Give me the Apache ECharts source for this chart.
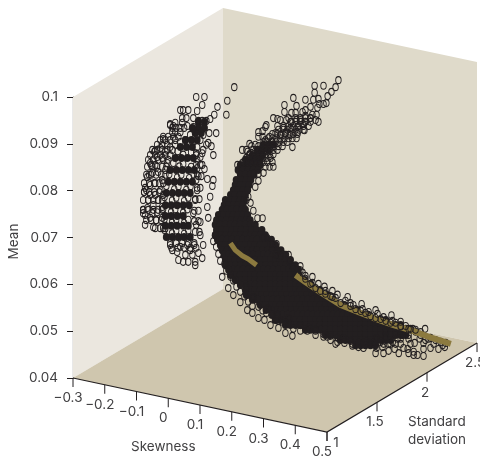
<!DOCTYPE html>
<html><head><meta charset="utf-8">
<style>html,body{margin:0;padding:0;background:#fff}#c{width:480px;height:459px}</style>
<script src="https://cdn.jsdelivr.net/npm/echarts@6/dist/echarts.min.js"></script>
</head><body><div id="c"></div>
<script>
// Axis ticks
const meanRange = [0.04, 0.1];
const skewTicks = [-0.3, -0.2, -0.1, 0, 0.1, 0.2, 0.3, 0.4, 0.5];
const stdTicks = [1, 1.5, 2, 2.5];

// The cloud's depth cannot be read from a flat picture, so each point is read as it
// appears on the page: [position on the Skewness scale, position on the Mean scale].

// Where overlapping markers merge into solid ink: one Mean reading, many Skewness readings.
const solidMeans = [.0947,.0934,.0923,.0908,.0893,.087,.0844,.0819,.0795,.0769,.0746,.0725,.0701,
 .0898,.0887,.0876,.0866,
 .0855,.0844,.0834,.0823,.0812,.0801,.0791,.078,.0769,.0759,.0748,.0737,.0727,.0716,.0705,.0695,.0684,.0673,.0663,.0652,.0641,.0631,.062,.0609,.0599,.0588,.0577,.0567,.0556,.0545,.0535,.0524,.0513,.0503,.0492,.0481,.047,
 .0641,.0631,.062,.0609,.0599,.0588,.0577,.0567,.0556,.0545,.0535,.0524,.0513,.0503,.0492,.0481,.047];
const solidSkews = [
 [.095,.114],[.076,.095,.114],[.085,.104],[.054,.073,.091],[.038,.057,.076],[.022,.041,.06,.079],[.006,.025,.044,.063,.082],[0,.019,.038,.057,.076],
 [-.006,.013,.032,.05,.069],[-.009,.009,.028,.047,.066],[-.009,.009,.028,.047],[-.009,.009,.028,.047,.063],[-.006,.013,.032,.05,.069],
 [.3,.315,.33],[.281,.297,.315],[.265,.281,.297],[.243,.259,.275,.29],
 [.227,.243,.259,.274,.29],[.22,.236,.252,.268,.283],[.227,.243,.259,.27],[.214,.23,.246,.26],[.211,.227,.243,.255],[.205,.22,.236,.25],[.196,.211,.227,.243],[.18,.196,.211,.227,.24],[.176,.19,.205,.22,.236],
 [.17,.185,.2,.216,.232,.243],[.158,.174,.19,.205,.22,.236,.25],[.152,.168,.183,.2,.215,.23,.246,.258],[.148,.164,.18,.196,.211,.227,.243,.259,.274],
 [.152,.168,.183,.2,.215,.23,.246,.262,.278,.295],[.148,.164,.18,.196,.211,.227,.243,.259,.274,.29,.306],[.155,.17,.186,.2,.218,.234,.25,.265,.28,.297,.313,.325],
 [.164,.18,.196,.211,.227,.243,.259,.274,.29,.306,.322,.338],[.17,.186,.2,.218,.234,.25,.265,.28,.297,.313,.328,.344,.355],[.176,.19,.205,.221,.237,.252,.268,.284,.3,.315,.331,.347,.363,.37],
 [.18,.196,.211,.227,.243,.259,.274,.29,.306,.322,.338,.353,.369,.385],[.196,.212,.228,.244,.26,.275,.291,.307,.323,.339,.355,.37,.386,.4],[.205,.22,.236,.252,.268,.284,.3,.315,.331,.347,.363,.379,.394,.41],
 [.211,.227,.243,.259,.274,.29,.306,.322,.338,.353,.369,.385,.401,.412],[.227,.243,.259,.274,.29,.306,.322,.338,.353,.369,.385,.401,.416,.43],[.243,.259,.274,.29,.306,.322,.338,.353,.369,.385,.401,.416,.432,.45],
 [.259,.274,.29,.306,.322,.338,.353,.369,.385,.401,.416,.432,.448,.464,.477],[.278,.294,.31,.326,.342,.357,.373,.389,.405,.42,.436,.452,.468,.484,.5],[.297,.313,.329,.345,.361,.376,.392,.408,.424,.44,.455,.471,.487,.503,.52],
 [.322,.338,.353,.369,.385,.401,.416,.432,.448,.464,.479,.495,.511,.527,.543,.555],[.34,.356,.372,.388,.404,.419,.435,.451,.467,.483,.498,.514,.53,.546,.562,.578,.595],[.36,.376,.392,.408,.424,.44,.455,.471,.487,.503,.519,.535,.55,.566,.582,.598,.614,.63],
 [.353,.369,.385,.401,.416,.432,.448,.464,.479,.495,.511,.527,.543,.558,.574,.59,.606,.621,.637,.653,.669,.685],[.401,.416,.432,.448,.464,.479,.495,.511,.527,.543,.558,.574,.59,.606,.621,.637,.653,.669,.685,.7,.716,.732],
 [.48,.495,.511,.527,.543,.558,.574,.59,.606,.621,.637,.653,.669,.685,.7,.716,.732,.748,.763],[.527,.543,.558,.574,.59,.606,.621,.637,.653,.669,.685,.7,.716,.732,.748],[.574,.59,.606,.621,.637,.653,.669,.685,.7],[.606,.621,.637,.653],
 [.18],[.19],[.196],[.211],[.227],[.243],[.246,.262],[.265,.281],[.29,.306],[.308,.324],[.328,.344],[.337],[.369,.385],[.432,.448,.464],[.495,.511],[.542,.558],[.59]
];

// Open markers read row by row: the spine of the upper branch and the outer arc of the left cluster
const rowMeans = [.0955,.0947,.0938,.093,.0921,.0912,.0904,.0895,.0887,.0878,.087,.0861,.0851,
 .0934,.0908,.0898,.0887,.0876,.0866,.0851,.0834,.0816,.0797,.078,.0759,.0737,.072,
 .088,.0855,.0831,.0806,.0782,.0757,.0735,.0712,.0688,.0678];
const rowSkews = [
 [.401,.416,.432,.448],[.385,.401,.416,.432,.448],[.363,.379,.394,.41,.426,.442],[.347,.363,.375,.388,.401,.413,.426],[.328,.344,.356,.369,.382,.394,.407],[.315,.328,.341,.353,.366,.379,.391,.404],[.3,.312,.325,.338,.35,.363,.375],[.284,.297,.309,.322,.334,.347,.36],[.268,.281,.293,.306,.319,.331,.344],[.256,.268,.281,.293,.306,.319,.331],[.246,.259,.271,.284,.297,.309,.322],[.237,.249,.262,.274,.287,.3,.312,.328],[.306,.319,.331],
 [.013,.025,.038,.05],[-.025,-.009,.006,.022],[-.035,-.019,-.003],[-.05,-.035,-.019,-.003,.013],[-.057,-.041,-.025,-.009,.006],[-.063,-.047,-.032,-.016,0],[-.066,-.05,-.035,-.019,-.006],[-.069,-.054,-.038,-.022,-.009],[-.076,-.06,-.044,-.028,-.016],[-.076,-.06,-.044,-.028],[-.079,-.063,-.047,-.032,-.019],[-.079,-.063,-.047,-.032,-.019],[-.069,-.054,-.038,-.022],[-.041,-.025,-.009],
 [.088,.107],[.088,.101],[.095,.104],[.091,.101],[.085,.098],[.082,.095],[.082,.095],[.085,.098],[.006,.025,.044,.063,.082],[.01,.03,.05,.07,.088]
];

const leftClusterRings = [[.088,.1],[.114,.1],[.107,.0983],[.091,.097],[.155,.0979],[.145,.0962],[.183,.0962],[.186,.0992],[.208,.1021],[.038,.0972],[.047,.0972],[.063,.0972],[.057,.0955],[.044,.0955],[.079,.0955],[.095,.0949],[.107,.0949],[.12,.0949],[.132,.0953],[.006,.0942],[.022,.0945],[.044,.0945],[.06,.0938],[.079,.0936],[.151,.0923],[.129,.0923],[.11,.0934],[.013,.0925],[.022,.0925],[.038,.0925],[-.016,.0915],[0,.0915],[.016,.0915],[.032,.0915],[.126,.0902],[.136,.0895],[.12,.0898],[.142,.0876],[.114,.0846],[.091,.0848],[.123,.0825],[.142,.0823],[.139,.081],[.088,.0823],[-.041,.0885],[-.025,.0891],[-.035,.0872],[-.009,.0883],[.006,.0893],[-.057,.0859],[-.041,.0855],[-.019,.087],[-.003,.0859],[-.066,.0829],[-.05,.0838],[-.032,.084],[-.009,.0844],[-.073,.0806],[-.057,.0812],[-.041,.0816],[-.019,.0823],
 [-.079,.0752],[-.073,.0748],[-.079,.0759],[-.069,.0801],[-.076,.0797],[-.06,.0834],[-.054,.0855],[-.044,.0883],[-.016,.091],[.006,.094],[.016,.0938],[-.057,.0791],[-.041,.0791],[-.025,.0801],[-.063,.078],[-.047,.0769],[-.032,.078],[-.016,.0791],[-.066,.0763],[-.05,.0752],[-.035,.0754],[-.019,.0765],[-.057,.0742],[-.038,.0737],[-.019,.0742],[-.073,.0727],[-.047,.0722],
 [.069,.0919],[.091,.0919],[.054,.0908],[.076,.0904],[.101,.0908],[.022,.0898],[.038,.0904],[.11,.0919],[.091,.0893],[.11,.0887],[.101,.0872],[.091,.0866],[.107,.0855],[.091,.0834],[.091,.0801],[.085,.078],[.079,.0752],[.088,.0727],[.101,.0705],[.11,.0684],[.095,.0667],[.107,.0656],[.013,.0673],[.032,.0652],[.047,.0648],[.063,.0648],[.085,.0648],[.085,.0641],[.076,.0663],[.069,.0673],[.028,.0669],[.054,.0663],[.006,.0684],[.038,.068],[.06,.0684],[.082,.0684],[.101,.0733],[.132,.0787],[.123,.0765],[.126,.0742],[-.016,.072],
 [.03,.0884],[.047,.0877],[.072,.0882],[.088,.0876],[.016,.0859],[.035,.0852],[.047,.0857],[.072,.0851],[.003,.0835],[.028,.0828],[.041,.0834],[.066,.0827],[.08,.0834],[-.006,.081],[.019,.0803],[.032,.0809],[.057,.0802],[.07,.0809],[-.012,.0786],[.012,.0779],[.025,.0785],[.05,.0778],[.063,.0785],[-.016,.0761],[.009,.0754],[.022,.076],[.047,.0753],[.06,.076],[-.012,.0739],[.012,.0732],[.025,.0738],[.05,.0731],[.063,.0738],[-.012,.0716],[.012,.0709],[.025,.0715],[.05,.0708],[.063,.0715]];

const upperBranchRings = [[.536,.1036],[.527,.1021],[.514,.1011],[.502,.1002],[.489,.1024],[.461,.1024],[.461,.1009],[.473,.0996],[.498,.0987],[.489,.0985],[.476,.0985],[.457,.0994],[.432,.0994],[.394,.0998],[.366,.0983],[.404,.0981],[.388,.0966],[.366,.0968],[.379,.0955],[.401,.0966],[.423,.0968],[.448,.0979],[.47,.0977],[.467,.0962],[.454,.0962],[.432,.096],[.416,.0951],[.404,.0951],[.388,.0947],[.372,.0951],[.353,.0951],[.344,.0953],[.331,.0955],[.309,.094],[.344,.0938],[.306,.0936],[.319,.0915],[.297,.0927],[.284,.0925],[.297,.0915],[.274,.0898],[.297,.0893],[.391,.0893],[.256,.09],[.256,.0876],[.306,.0908],[.338,.0923],[.363,.0934],[.385,.0934],[.407,.0936],[.426,.0942],[.448,.0955],[.432,.0972],[.464,.0951],[.473,.0947],[.369,.0923],[.353,.0919],[.328,.0904],[.385,.0919],[.407,.0925],[.429,.0929],[.432,.0947],
 [.246,.0887],[.233,.0887],[.25,.0883],[.262,.0895],[.284,.0915],[.233,.0859],[.218,.0855],[.297,.0741],[.281,.0741],[.268,.0757],[.259,.0774],[.252,.0787],[.246,.078],[.3,.0838],[.284,.0836],[.268,.0836],[.284,.0821],[.274,.0808]];

const massEdgeRings = [[.148,.0705],[.142,.0692],[.151,.068],[.158,.0665],[.164,.065],[.177,.0644],[.183,.0629],[.196,.0616],[.205,.0608],[.215,.0595],[.227,.0584],[.24,.0574],[.252,.0563],[.265,.0554],[.284,.0552],[.297,.0544],[.309,.0539],[.325,.0535],[.341,.0524],[.36,.052],[.379,.0516],[.394,.0505],[.416,.0501],[.438,.0501],[.464,.0492],[.489,.0488],[.511,.0481],[.533,.0477],[.555,.0475],[.58,.0469],
 [.379,.0527],[.369,.0518],[.344,.0533],[.315,.0548],[.268,.0573],[.246,.0595],[.249,.0545],[.265,.0539],[.284,.0528],[.303,.0524],[.322,.0513],[.347,.0507],[.369,.0496],[.391,.049],[.227,.0562],[.205,.0577],[.189,.0592],[.17,.0616],
 [.527,.0473],[.501,.0488],[.58,.0473],[.599,.0466],[.615,.0464],[.637,.0473],[.634,.0475],[.656,.0464],[.678,.0473],[.675,.0466],[.694,.0473],[.713,.0462],[.716,.0473],[.741,.0464],[.754,.0462],[.757,.0484],[.738,.0492],[.722,.0484],[.773,.0449],[.757,.0453],[.726,.0453],[.694,.0458],[.678,.0453],[.653,.0453],[.804,.0447],[.785,.0449],[.773,.0456],[.804,.0462],[.826,.0464],[.851,.0462],[.776,.0475],[.792,.0484],[.804,.0475],[.82,.0484],[.836,.0473],[.871,.0466],[.864,.047],
 [.685,.0488],[.707,.0477],[.732,.0484],[.757,.0492],[.779,.0499],[.795,.0492],[.81,.0481],[.826,.0486],[.842,.0481],[.858,.0477],[.874,.0475],[.763,.0473],[.732,.0473],[.7,.0473],[.669,.0477],[.646,.0475],[.624,.0477],[.6,.0475],[.574,.0479],[.552,.0484],[.533,.0486],[.511,.049],[.489,.0494],[.464,.0501],[.442,.0507],[.416,.0513],[.656,.0484],[.685,.0499],[.716,.0494],[.748,.0505],[.77,.0505],[.795,.0498],[.809,.0505]];

const upperEdgeRings = [[.341,.0686],[.328,.0686],[.347,.0671],[.312,.0699],[.3,.0701],[.338,.0663],[.353,.0661],[.379,.0663],[.382,.065],[.391,.0639],[.416,.0639],[.423,.0625],[.432,.0618],[.454,.0616],[.454,.0603],[.473,.0601],[.492,.0595],[.495,.0586],[.517,.0586],[.533,.0578],[.517,.0573],[.565,.0573],[.574,.056],[.583,.0556],[.609,.0558],[.612,.0547],[.631,.0541],[.653,.0545],[.659,.0537],[.678,.053],[.703,.0534],[.706,.0522],[.732,.052],[.732,.051],[.757,.0505],
 [.416,.063],[.432,.0612],[.448,.0601],[.464,.0592],[.479,.0586],[.495,.058],[.511,.0575],[.527,.0571],[.543,.056],[.558,.0565],[.574,.0554],[.59,.0547],[.606,.0543],[.621,.0539],[.637,.0532],[.653,.0528],[.669,.0526],[.685,.0522],[.7,.0518],[.716,.0518],[.732,.0511],[.748,.0511],[.763,.0505],[.779,.0503]];

// The gold series, in two visible stretches
const goldEarlySkews = [.196,.211,.233,.252,.278];
const goldEarlyMeans = [.0688,.0673,.0661,.0654,.0641];
const goldLateSkews = [.401,.432,.473,.543,.59,.647,.71,.773,.833,.89];
const goldLateMeans = [.062,.0605,.0586,.0556,.0543,.0528,.0513,.05,.0485,.0473];

// Projection of the box onto the page plane, expressed in the two scales above
const zip = (a, b) => a.map((v, i) => [v, b[i]]);
const project = (s, d, m) => [s + 0.315 * (d - 1), m - 67.5 * (s + 0.3) / 4683 + 59.3 * (d - 1) / 4683];
const [sMin, sMax] = [skewTicks[0], skewTicks[8]];
const [dMin, dMax] = [stdTicks[0], stdTicks[3]];
const [mMin, mMax] = meanRange;
const faces = [
 {fill: '#ebe7df', corners: [[sMin,dMin,mMin],[sMin,dMax,mMin],[sMin,dMax,mMax],[sMin,dMin,mMax]]},
 {fill: '#dfdaca', corners: [[sMin,dMax,mMin],[sMax,dMax,mMin],[sMax,dMax,mMax],[sMin,dMax,mMax]]},
 {fill: '#cfc6ae', corners: [[sMin,dMin,mMin],[sMax,dMin,mMin],[sMax,dMax,mMin],[sMin,dMax,mMin]]}
];
const ink = '#231f20', textColor = '#414042';
const font = 'Inter';

const solid = [];
solidMeans.forEach((m, i) => solidSkews[i].forEach(s => solid.push([s, m])));
const rowRings = [];
rowMeans.forEach((m, i) => rowSkews[i].forEach(s => rowRings.push([s, m])));

function renderFaces(params, api) {
  const f = faces[params.dataIndex];
  return {type: 'polygon', shape: {points: f.corners.map(c => api.coord(project(...c)))}, style: {fill: f.fill}};
}
function renderFrame(params, api) {
  const a = api.coord(project(sMin, dMin, mMin)), b = api.coord(project(sMax, dMin, mMin)), c = api.coord(project(sMax, dMax, mMin));
  return {type: 'polyline', shape: {points: [a, b, c]}, style: {stroke: ink, lineWidth: 1.2, fill: null}};
}
function tickRenderer(toPoint, offsets) {
  return function (params, api) {
    const v = api.value(0), p = api.coord(toPoint(v)), o = offsets(v);
    return {type: 'group', children: [
      {type: 'line', shape: {x1: p[0], y1: p[1], x2: p[0], y2: p[1] + 9}, style: {stroke: ink, lineWidth: 1}},
      {type: 'text', style: {x: p[0] + o[0], y: p[1] + o[1], text: o[2], fill: textColor, font: '13.5px ' + font, align: 'center', verticalAlign: 'middle'}}
    ]};
  };
}
const fmtSkew = v => v < 0 ? '\u2212' + Math.abs(v) : String(v);
const ring = {color: 'rgba(0,0,0,0)', borderColor: ink, borderWidth: 1, opacity: 1};
const ringSeries = d => ({type: 'scatter', data: d, clip: false, symbol: 'circle', symbolSize: [5.5, 7], itemStyle: ring, silent: true});
const goldSeries = (d, w) => ({type: 'line', data: d, clip: false, showSymbol: false, lineStyle: {color: '#8c7a3f', width: w, cap: 'butt'}, silent: true});

const chart = echarts.init(document.getElementById('c'), null, {renderer: 'canvas'});
chart.setOption({
  animation: false,
  backgroundColor: '#fff',
  grid: {left: 73, top: 97, width: 381, height: 281, containLabel: false, outerBoundsMode: 'none'},
  xAxis: {type: 'value', min: sMin, max: 0.9, show: false},
  yAxis: {type: 'value', min: mMin, max: mMax, interval: 0.01, name: 'Mean', nameLocation: 'middle', nameGap: 52, nameMoveOverlap: false,
    nameTextStyle: {color: textColor, fontFamily: font, fontSize: 13.5, padding: [0, 8, 0, 0]},
    axisLine: {show: true, onZero: false, lineStyle: {color: ink, width: 1.2}},
    axisTick: {show: true, length: 6, lineStyle: {color: ink, width: 1}},
    splitLine: {show: false},
    axisLabel: {margin: 15, color: textColor, fontFamily: font, fontSize: 13.5, padding: [0, 0, 4, 0], formatter: v => String(+v.toFixed(2))}},
  series: [
    {type: 'custom', data: faces.map((f, i) => [i]), renderItem: renderFaces, coordinateSystem: 'cartesian2d', clip: false, silent: true, z: 1},
    {type: 'custom', data: [[0]], renderItem: renderFrame, clip: false, silent: true, z: 1},
    {type: 'custom', data: skewTicks.map(v => [v]), clip: false, silent: true, z: 1,
      renderItem: tickRenderer(v => project(v, dMin, mMin), v => [-5, 20, fmtSkew(v)])},
    {type: 'custom', data: stdTicks.map(v => [v]), clip: false, silent: true, z: 1,
      renderItem: tickRenderer(v => project(sMax, v, mMin), v => v === 1 ? [9, 11, '1'] : [-2, 20, String(v)])},
    {type: 'scatter', data: solid, clip: false, symbol: 'circle', symbolSize: [7, 8], itemStyle: {color: ink, opacity: 1}, silent: true, z: 2},
    Object.assign(ringSeries(massEdgeRings), {z: 2}),
    Object.assign(goldSeries(zip(goldEarlySkews, goldEarlyMeans), 5), {z: 3}),
    Object.assign(goldSeries(zip(goldLateSkews, goldLateMeans), 6), {z: 3}),
    Object.assign(ringSeries(leftClusterRings), {z: 4}),
    Object.assign(ringSeries(rowRings), {z: 4}),
    Object.assign(ringSeries(upperBranchRings), {z: 4}),
    Object.assign(ringSeries(upperEdgeRings), {z: 4})
  ],
  graphic: [
    {type: 'text', left: 131, top: 440, silent: true, style: {text: 'Skewness', fill: textColor, font: '13.5px ' + font}},
    {type: 'text', left: 408, top: 413, silent: true, style: {text: 'Standard\ndeviation', fill: textColor, font: '13.5px ' + font, lineHeight: 18}}
  ]
});
</script></body></html>
